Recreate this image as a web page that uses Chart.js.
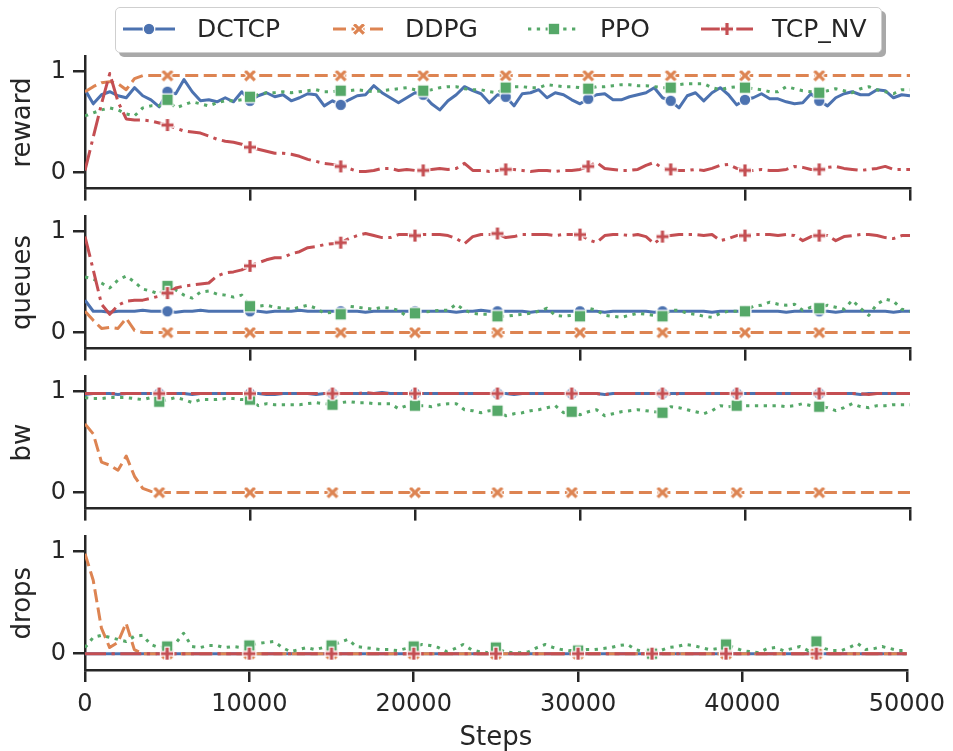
<!DOCTYPE html>
<html lang="en">
<head>
<meta charset="UTF-8">
<title>Training curves: reward, queues, bw, drops</title>
<script src="https://cdn.jsdelivr.net/npm/chart.js@4.4.1/dist/chart.umd.min.js"></script>
<style>
  html, body { margin: 0; padding: 0; background: #fff; }
  #wrap { position: relative; width: 953px; height: 751px; overflow: hidden;
          font-family: 'DejaVu Sans', sans-serif; color: #262626; }
  #wrap canvas.panel { position: absolute; left: 0; }
  #legend { position: absolute; left: 115px; top: 7px; width: 765px; height: 44px;
            border: 1px solid #cfcfcf; border-radius: 5px; background: #fff;
            box-shadow: 4px 4px 0 #a9a9a9; z-index: 5; }
  #legend canvas { position: absolute; top: 11px; }
  #legend span { position: absolute; top: 6px; font-size: 25px; line-height: 30px; white-space: nowrap; }
</style>
</head>
<body>
<div id="wrap">
  <div id="legend"></div>
</div>

<script>
// x positions (training steps)
const STEPS = [
  0, 500, 1000, 1500, 2000, 2500, 3000, 3500, 4000, 4500,
  5000, 5500, 6000, 6500, 7000, 7500, 8000, 8500, 9000, 9500,
  10000, 10500, 11000, 11500, 12000, 12500, 13000, 13500, 14000, 14500,
  15000, 15500, 16000, 16500, 17000, 17500, 18000, 18500, 19000, 19500,
  20000, 20500, 21000, 21500, 22000, 22500, 23000, 23500, 24000, 24500,
  25000, 25500, 26000, 26500, 27000, 27500, 28000, 28500, 29000, 29500,
  30000, 30500, 31000, 31500, 32000, 32500, 33000, 33500, 34000, 34500,
  35000, 35500, 36000, 36500, 37000, 37500, 38000, 38500, 39000, 39500,
  40000, 40500, 41000, 41500, 42000, 42500, 43000, 43500, 44000, 44500,
  45000, 45500, 46000, 46500, 47000, 47500, 48000, 48500, 49000, 49500,
  50000
];

const X_TICKS = [0, 10000, 20000, 30000, 40000, 50000];
const Y_TICKS = [0, 1];

// ---- reward ----
const REWARD_DCTCP = [
  0.82, 0.68, 0.77, 0.80, 0.76, 0.74, 0.84, 0.76, 0.72, 0.65,
  0.80, 0.78, 0.92, 0.80, 0.71, 0.72, 0.70, 0.74, 0.70, 0.80,
  0.71, 0.76, 0.79, 0.75, 0.77, 0.71, 0.74, 0.78, 0.77, 0.66,
  0.71, 0.67, 0.72, 0.76, 0.77, 0.86, 0.79, 0.74, 0.69, 0.74,
  0.79, 0.77, 0.68, 0.62, 0.71, 0.77, 0.85, 0.81, 0.78, 0.69,
  0.77, 0.75, 0.66, 0.78, 0.79, 0.82, 0.74, 0.79, 0.77, 0.72,
  0.68, 0.73, 0.77, 0.78, 0.72, 0.72, 0.75, 0.77, 0.79, 0.84,
  0.74, 0.71, 0.64, 0.76, 0.79, 0.71, 0.79, 0.84, 0.77, 0.67,
  0.72, 0.74, 0.78, 0.73, 0.73, 0.70, 0.68, 0.69, 0.78, 0.71,
  0.66, 0.74, 0.78, 0.80, 0.77, 0.77, 0.82, 0.81, 0.74, 0.77,
  0.76
];
const REWARD_DDPG = [
  0.80, 0.85, 0.89, 0.90, 0.88, 0.82, 0.93, 0.96, 0.96, 0.96,
  0.96, 0.96, 0.96, 0.96, 0.96, 0.96, 0.96, 0.96, 0.96, 0.96,
  0.96, 0.96, 0.96, 0.96, 0.96, 0.96, 0.96, 0.96, 0.96, 0.96,
  0.96, 0.96, 0.96, 0.96, 0.96, 0.96, 0.96, 0.96, 0.96, 0.96,
  0.96, 0.96, 0.96, 0.96, 0.96, 0.96, 0.96, 0.96, 0.96, 0.96,
  0.96, 0.96, 0.96, 0.96, 0.96, 0.96, 0.96, 0.96, 0.96, 0.96,
  0.96, 0.96, 0.96, 0.96, 0.96, 0.96, 0.96, 0.96, 0.96, 0.96,
  0.96, 0.96, 0.96, 0.96, 0.96, 0.96, 0.96, 0.96, 0.96, 0.96,
  0.96, 0.96, 0.96, 0.96, 0.96, 0.96, 0.96, 0.96, 0.96, 0.96,
  0.96, 0.96, 0.96, 0.96, 0.96, 0.96, 0.96, 0.96, 0.96, 0.96,
  0.96
];
const REWARD_PPO = [
  0.56, 0.59, 0.62, 0.64, 0.62, 0.58, 0.56, 0.64, 0.66, 0.66,
  0.72, 0.64, 0.67, 0.70, 0.68, 0.66, 0.69, 0.71, 0.71, 0.72,
  0.75, 0.77, 0.79, 0.79, 0.80, 0.79, 0.80, 0.81, 0.82, 0.80,
  0.80, 0.81, 0.81, 0.82, 0.81, 0.80, 0.81, 0.82, 0.83, 0.84,
  0.82, 0.81, 0.82, 0.84, 0.85, 0.85, 0.83, 0.82, 0.82, 0.80,
  0.79, 0.84, 0.85, 0.85, 0.84, 0.84, 0.87, 0.86, 0.85, 0.85,
  0.84, 0.83, 0.85, 0.85, 0.86, 0.87, 0.87, 0.86, 0.86, 0.85,
  0.84, 0.84, 0.87, 0.88, 0.88, 0.88, 0.84, 0.82, 0.84, 0.85,
  0.84, 0.83, 0.82, 0.80, 0.80, 0.85, 0.83, 0.81, 0.80, 0.79,
  0.81, 0.83, 0.81, 0.79, 0.83, 0.85, 0.82, 0.80, 0.78, 0.82,
  0.82
];
const REWARD_TCPNV = [
  0.02, 0.35, 0.68, 0.98, 0.70, 0.53, 0.52, 0.52, 0.51, 0.49,
  0.47, 0.44, 0.41, 0.40, 0.39, 0.36, 0.33, 0.31, 0.30, 0.28,
  0.25, 0.23, 0.21, 0.19, 0.19, 0.18, 0.16, 0.13, 0.11, 0.09,
  0.08, 0.06, 0.04, 0.01, 0.01, 0.02, 0.04, 0.04, 0.02, 0.03,
  0.02, 0.02, 0.03, 0.04, 0.03, 0.04, 0.09, 0.02, 0.02, 0.01,
  0.02, 0.03, 0.03, 0.02, 0.01, 0.02, 0.02, 0.01, 0.02, 0.02,
  0.03, 0.06, 0.10, 0.04, 0.03, 0.02, 0.02, 0.03, 0.07, 0.10,
  0.04, 0.03, 0.02, 0.02, 0.03, 0.02, 0.04, 0.07, 0.08, 0.04,
  0.02, 0.02, 0.03, 0.02, 0.02, 0.03, 0.06, 0.05, 0.03, 0.03,
  0.05, 0.06, 0.04, 0.03, 0.02, 0.03, 0.04, 0.06, 0.03, 0.03,
  0.03
];

// ---- queues ----
const QUEUES_DCTCP = [
  0.32, 0.21, 0.21, 0.20, 0.21, 0.21, 0.21, 0.22, 0.21, 0.21,
  0.21, 0.20, 0.21, 0.21, 0.22, 0.21, 0.21, 0.21, 0.21, 0.21,
  0.21, 0.21, 0.20, 0.21, 0.21, 0.21, 0.22, 0.21, 0.21, 0.21,
  0.21, 0.21, 0.21, 0.21, 0.20, 0.21, 0.21, 0.21, 0.21, 0.21,
  0.21, 0.21, 0.21, 0.21, 0.21, 0.20, 0.21, 0.21, 0.22, 0.21,
  0.21, 0.21, 0.21, 0.21, 0.20, 0.21, 0.21, 0.21, 0.21, 0.21,
  0.21, 0.21, 0.21, 0.20, 0.21, 0.21, 0.21, 0.21, 0.21, 0.20,
  0.21, 0.21, 0.21, 0.21, 0.21, 0.21, 0.20, 0.21, 0.21, 0.21,
  0.21, 0.21, 0.21, 0.21, 0.21, 0.20, 0.21, 0.21, 0.21, 0.21,
  0.21, 0.20, 0.21, 0.21, 0.21, 0.21, 0.21, 0.21, 0.20, 0.21,
  0.21
];
const QUEUES_DDPG = [
  0.21, 0.12, 0.04, 0.05, 0.04, 0.14, 0.02, 0.00, 0.00, 0.00,
  0.00, 0.00, 0.00, 0.00, 0.00, 0.00, 0.00, 0.00, 0.00, 0.00,
  0.00, 0.00, 0.00, 0.00, 0.00, 0.00, 0.00, 0.00, 0.00, 0.00,
  0.00, 0.00, 0.00, 0.00, 0.00, 0.00, 0.00, 0.00, 0.00, 0.00,
  0.00, 0.00, 0.00, 0.00, 0.00, 0.00, 0.00, 0.00, 0.00, 0.00,
  0.00, 0.00, 0.00, 0.00, 0.00, 0.00, 0.00, 0.00, 0.00, 0.00,
  0.00, 0.00, 0.00, 0.00, 0.00, 0.00, 0.00, 0.00, 0.00, 0.00,
  0.00, 0.00, 0.00, 0.00, 0.00, 0.00, 0.00, 0.00, 0.00, 0.00,
  0.00, 0.00, 0.00, 0.00, 0.00, 0.00, 0.00, 0.00, 0.00, 0.00,
  0.00, 0.00, 0.00, 0.00, 0.00, 0.00, 0.00, 0.00, 0.00, 0.00,
  0.00
];
const QUEUES_PPO = [
  0.55, 0.53, 0.49, 0.44, 0.52, 0.56, 0.50, 0.43, 0.41, 0.38,
  0.46, 0.42, 0.37, 0.34, 0.40, 0.41, 0.38, 0.37, 0.35, 0.37,
  0.26, 0.26, 0.27, 0.25, 0.24, 0.23, 0.25, 0.27, 0.24, 0.19,
  0.20, 0.18, 0.26, 0.25, 0.24, 0.23, 0.25, 0.24, 0.22, 0.16,
  0.19, 0.20, 0.21, 0.22, 0.22, 0.28, 0.22, 0.19, 0.18, 0.18,
  0.16, 0.16, 0.17, 0.18, 0.19, 0.21, 0.24, 0.17, 0.16, 0.17,
  0.16, 0.24, 0.22, 0.17, 0.16, 0.15, 0.17, 0.19, 0.18, 0.17,
  0.16, 0.22, 0.22, 0.19, 0.18, 0.16, 0.15, 0.19, 0.21, 0.21,
  0.21, 0.26, 0.27, 0.30, 0.28, 0.27, 0.28, 0.22, 0.25, 0.24,
  0.27, 0.25, 0.23, 0.32, 0.24, 0.17, 0.28, 0.33, 0.31, 0.23,
  0.21
];
const QUEUES_TCPNV = [
  0.95, 0.62, 0.28, 0.18, 0.27, 0.31, 0.32, 0.32, 0.34, 0.36,
  0.39, 0.44, 0.46, 0.47, 0.48, 0.49, 0.56, 0.59, 0.60, 0.62,
  0.66, 0.69, 0.72, 0.74, 0.74, 0.78, 0.80, 0.84, 0.85, 0.87,
  0.88, 0.89, 0.93, 0.96, 0.98, 0.96, 0.94, 0.94, 0.97, 0.97,
  0.96, 0.97, 0.97, 0.97, 0.96, 0.93, 0.88, 0.95, 0.97, 0.97,
  0.98, 0.94, 0.95, 0.97, 0.97, 0.97, 0.97, 0.96, 0.97, 0.97,
  0.97, 0.92, 0.89, 0.96, 0.97, 0.97, 0.96, 0.97, 0.95, 0.88,
  0.95, 0.96, 0.97, 0.97, 0.97, 0.96, 0.97, 0.91, 0.93, 0.96,
  0.96, 0.97, 0.97, 0.97, 0.96, 0.97, 0.96, 0.91, 0.95, 0.96,
  0.96, 0.91, 0.95, 0.96, 0.97, 0.97, 0.96, 0.94, 0.93, 0.96,
  0.96
];

// ---- bw ----
const BW_DCTCP = [
  0.97, 0.98, 0.98, 0.98, 0.97, 0.98, 0.98, 0.98, 0.98, 0.98,
  0.98, 0.98, 0.98, 0.97, 0.98, 0.98, 0.98, 0.98, 0.98, 0.98,
  0.98, 0.98, 0.97, 0.97, 0.98, 0.98, 0.98, 0.98, 0.97, 0.98,
  0.98, 0.98, 0.98, 0.98, 0.98, 0.98, 0.99, 0.98, 0.98, 0.98,
  0.98, 0.98, 0.98, 0.98, 0.98, 0.98, 0.98, 0.98, 0.98, 0.98,
  0.98, 0.98, 0.97, 0.98, 0.98, 0.98, 0.98, 0.98, 0.98, 0.98,
  0.98, 0.98, 0.98, 0.97, 0.98, 0.98, 0.98, 0.98, 0.98, 0.98,
  0.98, 0.98, 0.98, 0.98, 0.98, 0.98, 0.98, 0.98, 0.98, 0.98,
  0.98, 0.98, 0.98, 0.98, 0.98, 0.98, 0.98, 0.98, 0.98, 0.98,
  0.98, 0.98, 0.98, 0.98, 0.97, 0.98, 0.98, 0.98, 0.98, 0.98,
  0.98
];
const BW_DDPG = [
  0.68, 0.58, 0.30, 0.27, 0.22, 0.36, 0.16, 0.04, 0.01, 0.00,
  0.00, 0.00, 0.00, 0.00, 0.00, 0.00, 0.00, 0.00, 0.00, 0.00,
  0.00, 0.00, 0.00, 0.00, 0.00, 0.00, 0.00, 0.00, 0.00, 0.00,
  0.00, 0.00, 0.00, 0.00, 0.00, 0.00, 0.00, 0.00, 0.00, 0.00,
  0.00, 0.00, 0.00, 0.00, 0.00, 0.00, 0.00, 0.00, 0.00, 0.00,
  0.00, 0.00, 0.00, 0.00, 0.00, 0.00, 0.00, 0.00, 0.00, 0.00,
  0.00, 0.00, 0.00, 0.00, 0.00, 0.00, 0.00, 0.00, 0.00, 0.00,
  0.00, 0.00, 0.00, 0.00, 0.00, 0.00, 0.00, 0.00, 0.00, 0.00,
  0.00, 0.00, 0.00, 0.00, 0.00, 0.00, 0.00, 0.00, 0.00, 0.00,
  0.00, 0.00, 0.00, 0.00, 0.00, 0.00, 0.00, 0.00, 0.00, 0.00,
  0.00
];
const BW_PPO = [
  0.94, 0.93, 0.93, 0.94, 0.94, 0.94, 0.93, 0.92, 0.94, 0.90,
  0.92, 0.94, 0.92, 0.89, 0.92, 0.92, 0.92, 0.93, 0.93, 0.92,
  0.92, 0.86, 0.88, 0.87, 0.87, 0.87, 0.87, 0.88, 0.89, 0.88,
  0.87, 0.89, 0.90, 0.89, 0.89, 0.88, 0.88, 0.88, 0.83, 0.86,
  0.86, 0.86, 0.85, 0.87, 0.88, 0.88, 0.82, 0.81, 0.79, 0.81,
  0.81, 0.76, 0.78, 0.79, 0.81, 0.82, 0.84, 0.86, 0.79, 0.80,
  0.77, 0.80, 0.82, 0.76, 0.78, 0.80, 0.81, 0.82, 0.81, 0.80,
  0.79, 0.85, 0.84, 0.82, 0.80, 0.78, 0.81, 0.86, 0.85, 0.86,
  0.86, 0.86, 0.86, 0.86, 0.86, 0.85, 0.86, 0.88, 0.86, 0.85,
  0.84, 0.81, 0.84, 0.88, 0.85, 0.84, 0.86, 0.86, 0.87, 0.87,
  0.87
];
const BW_TCPNV = [
  0.98, 0.98, 0.98, 0.98, 0.98, 0.98, 0.98, 0.98, 0.98, 0.98,
  0.98, 0.98, 0.98, 0.98, 0.98, 0.98, 0.98, 0.98, 0.98, 0.98,
  0.98, 0.98, 0.98, 0.98, 0.98, 0.98, 0.98, 0.98, 0.98, 0.98,
  0.98, 0.98, 0.98, 0.98, 0.99, 0.98, 0.98, 0.98, 0.98, 0.98,
  0.98, 0.98, 0.98, 0.98, 0.98, 0.98, 0.98, 0.98, 0.98, 0.98,
  0.98, 0.98, 0.98, 0.98, 0.98, 0.98, 0.98, 0.98, 0.98, 0.98,
  0.98, 0.98, 0.98, 0.97, 0.98, 0.98, 0.98, 0.98, 0.98, 0.98,
  0.98, 0.97, 0.98, 0.98, 0.98, 0.98, 0.98, 0.98, 0.98, 0.98,
  0.98, 0.98, 0.98, 0.98, 0.98, 0.98, 0.98, 0.98, 0.98, 0.98,
  0.98, 0.98, 0.98, 0.98, 0.98, 0.97, 0.98, 0.98, 0.98, 0.98,
  0.98
];

// ---- drops ----
const DROPS_DCTCP = [
  0, 0, 0, 0, 0, 0, 0, 0, 0, 0,
  0, 0, 0, 0, 0, 0, 0, 0, 0, 0,
  0, 0, 0, 0, 0, 0, 0, 0, 0, 0,
  0, 0, 0, 0, 0, 0, 0, 0, 0, 0,
  0, 0, 0, 0, 0, 0, 0, 0, 0, 0,
  0, 0, 0, 0, 0, 0, 0, 0, 0, 0,
  0, 0, 0, 0, 0, 0, 0, 0, 0, 0,
  0, 0, 0, 0, 0, 0, 0, 0, 0, 0,
  0, 0, 0, 0, 0, 0, 0, 0, 0, 0,
  0, 0, 0, 0, 0, 0, 0, 0, 0, 0,
  0
];
const DROPS_DDPG = [
  0.98, 0.72, 0.25, 0.06, 0.11, 0.30, 0.04, 0.00, 0.00, 0.00,
  0, 0, 0, 0, 0, 0, 0, 0, 0, 0,
  0, 0, 0, 0, 0, 0, 0, 0, 0, 0,
  0, 0, 0, 0, 0, 0, 0, 0, 0, 0,
  0, 0, 0, 0, 0, 0, 0, 0, 0, 0,
  0, 0, 0, 0, 0, 0, 0, 0, 0, 0,
  0, 0, 0, 0, 0, 0, 0, 0, 0, 0,
  0, 0, 0, 0, 0, 0, 0, 0, 0, 0,
  0, 0, 0, 0, 0, 0, 0, 0, 0, 0,
  0, 0, 0, 0, 0, 0, 0, 0, 0, 0,
  0
];
const DROPS_PPO = [
  0.06, 0.16, 0.18, 0.16, 0.14, 0.12, 0.17, 0.18, 0.09, 0.06,
  0.07, 0.10, 0.20, 0.07, 0.06, 0.08, 0.08, 0.06, 0.07, 0.06,
  0.08, 0.10, 0.11, 0.12, 0.06, 0.02, 0.04, 0.06, 0.04, 0.06,
  0.08, 0.11, 0.14, 0.07, 0.06, 0.05, 0.04, 0.04, 0.03, 0.05,
  0.07, 0.09, 0.08, 0.06, 0.02, 0.05, 0.09, 0.04, 0.02, 0.01,
  0.06, 0.02, 0.01, 0.01, 0.02, 0.06, 0.09, 0.06, 0.04, 0.03,
  0.03, 0.04, 0.04, 0.05, 0.06, 0.08, 0.09, 0.04, 0.02, 0.00,
  0.03, 0.06, 0.07, 0.09, 0.08, 0.06, 0.04, 0.05, 0.09, 0.06,
  0.03, 0.02, 0.01, 0.05, 0.06, 0.03, 0.05, 0.07, 0.03, 0.12,
  0.05, 0.03, 0.03, 0.06, 0.10, 0.04, 0.05, 0.07, 0.05, 0.03,
  0.03
];
const DROPS_TCPNV = [
  0, 0, 0, 0, 0, 0, 0, 0, 0, 0,
  0, 0, 0, 0, 0, 0, 0, 0, 0, 0,
  0, 0, 0, 0, 0, 0, 0, 0, 0, 0,
  0, 0, 0, 0, 0, 0, 0, 0, 0, 0,
  0, 0, 0, 0, 0, 0, 0, 0, 0, 0,
  0, 0, 0, 0, 0, 0, 0, 0, 0, 0,
  0, 0, 0, 0, 0, 0, 0, 0, 0, 0,
  0, 0, 0, 0, 0, 0, 0, 0, 0, 0,
  0, 0, 0, 0, 0, 0, 0, 0, 0, 0,
  0, 0, 0, 0, 0, 0, 0, 0, 0, 0,
  0
];

// steps where markers are drawn, per panel
const MARKS_REWARD = [5000, 10000, 15500, 20500, 25500, 30500, 35500, 40000, 44500];
const MARKS_QUEUES = [5000, 10000, 15500, 20000, 25000, 30000, 35000, 40000, 44500];
const MARKS_BW     = [4500, 10000, 15000, 20000, 25000, 29500, 35000, 39500, 44500];
const MARKS_DROPS  = [5000, 10000, 15000, 20000, 25000, 30000, 34500, 39000, 44500];

const NAMES = ['DCTCP', 'DDPG', 'PPO', 'TCP_NV'];

// styling
const COLORS = ['#4C72B0', '#DD8452', '#55A868', '#C44E52'];
const DASHES = [[], [13, 5.5], [3.3, 5.5], [21, 5.5, 3.3, 5.5]];
const SHAPES = ['circle', 'x', 'square', 'plus'];
const INK = '#262626';

const PANELS = [
  { title: 'reward', series: [REWARD_DCTCP, REWARD_DDPG, REWARD_PPO, REWARD_TCPNV], marks: MARKS_REWARD },
  { title: 'queues', series: [QUEUES_DCTCP, QUEUES_DDPG, QUEUES_PPO, QUEUES_TCPNV], marks: MARKS_QUEUES },
  { title: 'bw',     series: [BW_DCTCP, BW_DDPG, BW_PPO, BW_TCPNV],                 marks: MARKS_BW },
  { title: 'drops',  series: [DROPS_DCTCP, DROPS_DDPG, DROPS_PPO, DROPS_TCPNV],     marks: MARKS_DROPS }
];

Chart.defaults.font.family = "'DejaVu Sans', sans-serif";
Chart.defaults.color = INK;

// filled markers with a thin white edge, like seaborn
function makeMarker(shape, color) {
  const c = document.createElement('canvas');
  c.width = 18; c.height = 18;
  const g = c.getContext('2d');
  g.translate(9, 9);
  g.fillStyle = color;
  g.strokeStyle = '#fff';
  g.lineWidth = 1.2;
  g.beginPath();
  if (shape === 'circle') {
    g.arc(0, 0, 5.8, 0, Math.PI * 2);
  } else if (shape === 'square') {
    g.rect(-5.8, -5.8, 11.6, 11.6);
  } else {
    const a = shape === 'x' ? 7.4 : 6.6, b = 2.2;
    if (shape === 'x') g.rotate(Math.PI / 4);
    const pts = [[-a, -b], [-b, -b], [-b, -a], [b, -a], [b, -b], [a, -b],
                 [a, b], [b, b], [b, a], [-b, a], [-b, b], [-a, b]];
    pts.forEach((p, i) => i ? g.lineTo(p[0], p[1]) : g.moveTo(p[0], p[1]));
    g.closePath();
  }
  g.fill();
  g.stroke();
  return c;
}
const MARKERS = SHAPES.map((s, k) => makeMarker(s, COLORS[k]));

// legend
const LEGEND_HANDLE_X = [7, 217, 412, 585];
const LEGEND_TEXT_X = [81, 289, 484, 656];
const legend = document.getElementById('legend');
NAMES.forEach((name, k) => {
  const h = document.createElement('canvas');
  h.width = 52; h.height = 20;
  h.style.left = LEGEND_HANDLE_X[k] + 'px';
  const g = h.getContext('2d');
  g.strokeStyle = COLORS[k];
  g.lineWidth = 3;
  g.setLineDash(DASHES[k]);
  g.beginPath();
  g.moveTo(0, 10);
  g.lineTo(52, 10);
  g.stroke();
  g.drawImage(MARKERS[k], 26 - 9, 10 - 9);
  legend.appendChild(h);
  const t = document.createElement('span');
  t.textContent = name;
  t.style.left = LEGEND_TEXT_X[k] + 'px';
  legend.appendChild(t);
});

// one chart per panel, stacked
const wrap = document.getElementById('wrap');
const PANEL_TOP = [55, 215, 375, 535];
const PLOT_H = 135;

PANELS.forEach((panel, p) => {
  const last = p === PANELS.length - 1;
  const xh = last ? 81 : 20;
  const cv = document.createElement('canvas');
  cv.className = 'panel';
  cv.width = 953;
  cv.height = 20 + PLOT_H + xh;
  cv.style.top = (PANEL_TOP[p] - 20) + 'px';
  wrap.appendChild(cv);

  const isMark = i => panel.marks.includes(STEPS[i]);

  const datasets = panel.series.map((arr, k) => ({
    label: NAMES[k],
    data: STEPS.map((s, i) => ({ x: s, y: arr[i] })),
    borderColor: COLORS[k],
    backgroundColor: COLORS[k],
    borderWidth: 3,
    borderDash: DASHES[k],
    borderCapStyle: 'butt',
    borderJoinStyle: 'round',
    tension: 0,
    fill: false,
    order: 3 - k,
    pointStyle: ctx => (ctx.dataIndex !== undefined && isMark(ctx.dataIndex)) ? MARKERS[k] : false,
    pointRadius: ctx => (ctx.dataIndex !== undefined && isMark(ctx.dataIndex)) ? 7 : 0,
    pointHoverRadius: 0,
    pointHitRadius: 0
  }));

  const axisLine = { display: true, width: 2.5, color: INK };
  const tickLines = { display: true, drawOnChartArea: false, drawTicks: true, tickLength: 12, lineWidth: 2.5, color: INK };

  new Chart(cv, {
    type: 'line',
    data: { datasets },
    options: {
      responsive: false,
      animation: false,
      events: [],
      layout: { padding: { top: 20, right: 43, bottom: 0, left: 0 } },
      plugins: { legend: { display: false }, tooltip: { enabled: false } },
      scales: {
        x: {
          type: 'linear',
          min: 0,
          max: 50000,
          afterBuildTicks: s => { s.ticks = X_TICKS.map(v => ({ value: v })); },
          ticks: { display: last, padding: 8, font: { size: 24 }, color: INK,
                   maxRotation: 0, autoSkip: false, callback: v => String(v) },
          grid: tickLines,
          border: axisLine,
          title: { display: last, text: 'Steps', color: INK,
                   font: { size: 26, lineHeight: 1 }, padding: 0 },
          afterFit: s => { s.height = xh; }
        },
        y: {
          type: 'linear',
          min: -0.16,
          max: 1.15,
          afterBuildTicks: s => { s.ticks = Y_TICKS.map(v => ({ value: v })); },
          ticks: { padding: 7, font: { size: 24 }, color: INK },
          grid: tickLines,
          border: axisLine,
          title: { display: true, text: panel.title, color: INK,
                   font: { size: 26 }, padding: { top: 8, bottom: 0 } },
          afterFit: s => { s.width = 85; }
        }
      }
    }
  });
});
</script>
</body>
</html>
